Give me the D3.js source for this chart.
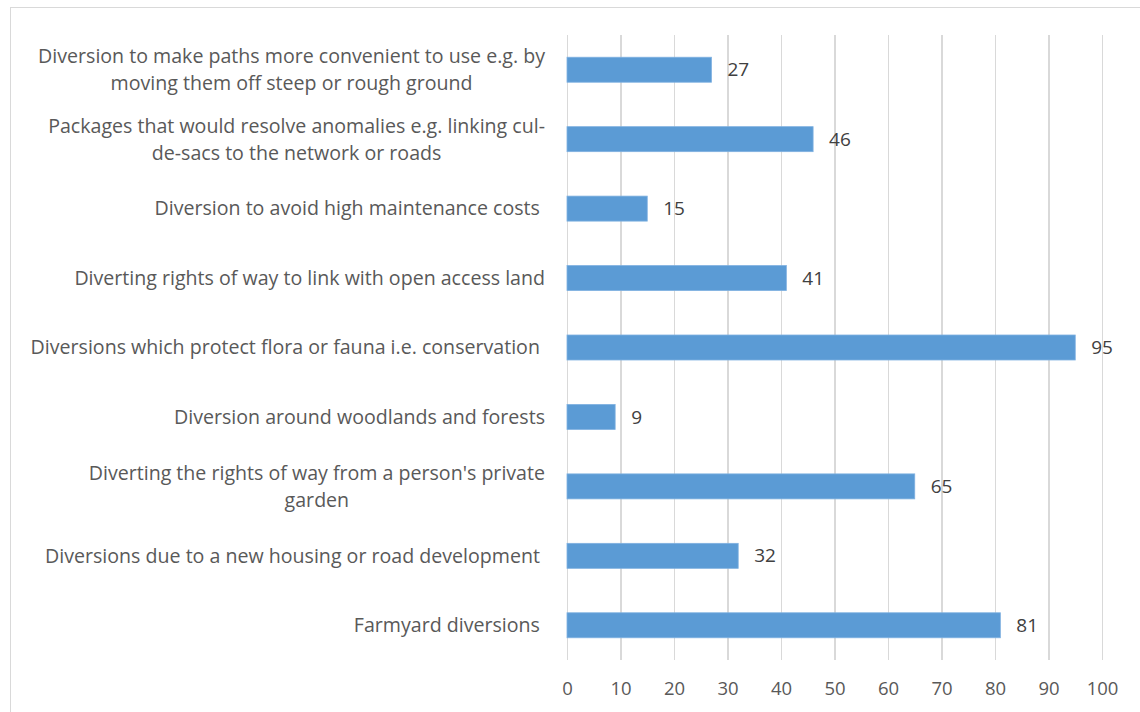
<!DOCTYPE html>
<html>
<head>
<meta charset="utf-8">
<script src="https://cdn.jsdelivr.net/npm/d3@7"></script>
<style>
  html, body { margin: 0; padding: 0; background: #fff; }
  svg { display: block; }
  text { font-family: "Open Sans", "Noto Sans", sans-serif; }
</style>
</head>
<body>
<svg id="chart" width="1140" height="712"></svg>
<script>
// Survey responses: types of diversion, number of respondents
const categories = [
  ["Diversion to make paths more convenient to use e.g. by", "moving them off steep or rough ground"],
  ["Packages that would resolve anomalies e.g. linking cul-", "de-sacs to the network or roads"],
  ["Diversion to avoid high maintenance costs "],
  ["Diverting rights of way to link with open access land"],
  ["Diversions which protect flora or fauna i.e. conservation "],
  ["Diversion around woodlands and forests"],
  ["Diverting the rights of way from a person's private", "garden"],
  ["Diversions due to a new housing or road development "],
  ["Farmyard diversions "]
];
const values = [27, 46, 15, 41, 95, 9, 65, 32, 81];
const tickValues = [0, 10, 20, 30, 40, 50, 60, 70, 80, 90, 100];

const svg = d3.select("#chart");
const W = 1140, H = 712;
const plot = { left: 567, right: 1102, top: 35, bottom: 660 };

// Chart area frame
svg.append("rect")
  .attr("x", 10.5).attr("y", 7.5)
  .attr("width", W + 20).attr("height", H + 20)
  .attr("fill", "#fff").attr("stroke", "#d9d9d9").attr("stroke-width", 1);

const keys = categories.map((c, i) => "c" + i);

const x = d3.scaleLinear().domain([0, 100]).range([plot.left, plot.right]);
const y = d3.scaleBand().domain(keys).range([plot.top, plot.bottom])
  .paddingInner(0.64).paddingOuter(0.32);

// Vertical gridlines
const grid = svg.append("g")
  .attr("transform", `translate(0,${plot.bottom})`)
  .call(d3.axisBottom(x).tickValues(tickValues)
    .tickSize(-(plot.bottom - plot.top)).tickFormat(""));
grid.select(".domain").remove();
grid.selectAll(".tick line")
  .attr("stroke", "#d9d9d9").attr("stroke-width", 1.3)
  .attr("shape-rendering", "crispEdges");

// Value axis labels
const xAxis = svg.append("g")
  .attr("transform", `translate(0,${plot.bottom})`)
  .call(d3.axisBottom(x).tickValues(tickValues).tickSize(0).tickPadding(22));
xAxis.select(".domain").remove();
xAxis.selectAll("text")
  .attr("fill", "#595959")
  .style("font-size", "18.5px")
  .attr("font-family", null);

// Bars
svg.append("g").selectAll("rect")
  .data(values)
  .join("rect")
  .attr("x", x(0))
  .attr("y", (d, i) => y(keys[i]))
  .attr("width", d => x(d) - x(0))
  .attr("height", y.bandwidth())
  .attr("fill", "#5b9bd5")
  .attr("stroke", "#7fb1e0").attr("stroke-width", 0.8);

// Data labels
svg.append("g").selectAll("text")
  .data(values)
  .join("text")
  .attr("x", d => x(d) + 16)
  .attr("y", (d, i) => y(keys[i]) + y.bandwidth() / 2)
  .attr("dy", "0.35em")
  .attr("fill", "#404040")
  .style("font-size", "19px")
  .text(d => d);

// Category labels: wrapped lines centred on each other, block right-aligned
const labelRight = 545;
const lineH = 27;
const catG = svg.append("g");
categories.forEach((lines, i) => {
  const cy = y(keys[i]) + y.bandwidth() / 2;
  const g = catG.append("g");
  const texts = lines.map((ln, j) => g.append("text")
    .attr("y", cy + (j - (lines.length - 1) / 2) * lineH)
    .attr("dy", "0.35em")
    .attr("fill", "#595959")
    .attr("text-anchor", "middle")
    .style("font-size", "19.6px")
    .style("white-space", "pre")
    .text(ln));
  const widths = texts.map(t => t.node().getComputedTextLength());
  const maxW = d3.max(widths);
  texts.forEach(t => t.attr("x", labelRight - maxW / 2));
});
</script>
</body>
</html>
